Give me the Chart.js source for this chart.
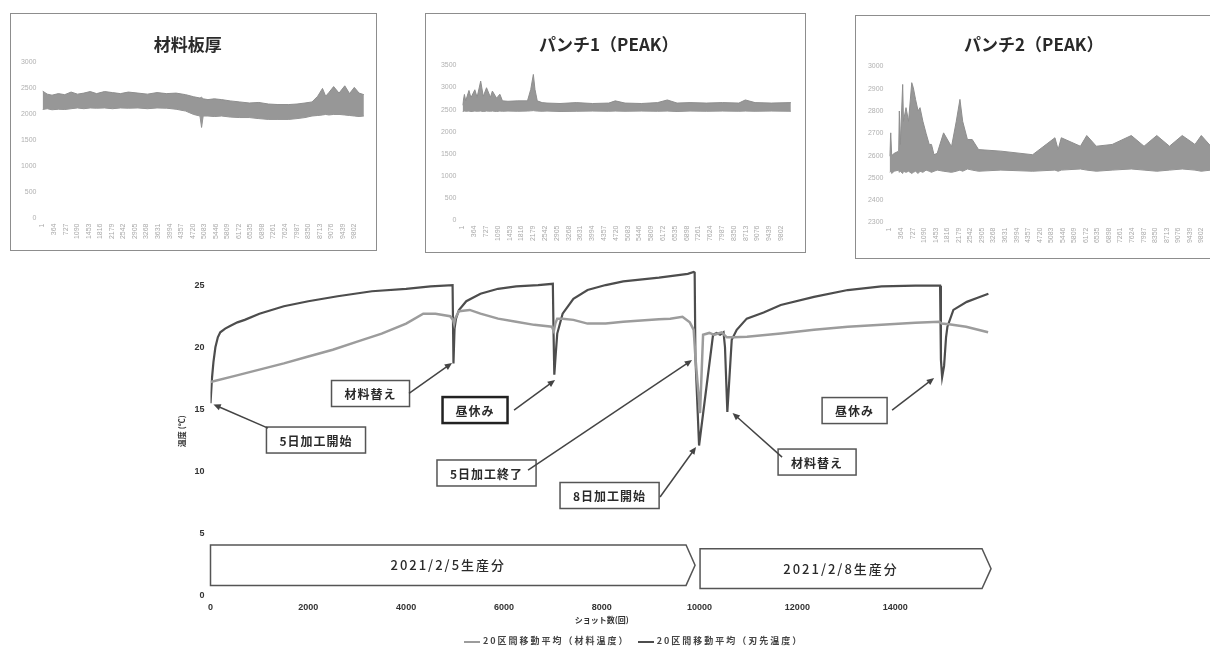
<!DOCTYPE html>
<html lang="ja">
<head>
<meta charset="UTF-8">
<title>温度推移</title>
<script src="https://cdn.jsdelivr.net/npm/chart.js@4/dist/chart.umd.min.js"></script>
<style>
  * { box-sizing: border-box; margin: 0; padding: 0; }
  body { width: 1210px; height: 648px; overflow: hidden; background: #fff; position: relative; font-family: "Noto Sans CJK JP", sans-serif; }
  .panel { position: absolute; border: 1.5px solid #8d8d8d; background: #fff; overflow: hidden; }
  .panel canvas { position: absolute; left: 0; top: 0; }
  #main { position: absolute; left: 150px; top: 255px; }
  #legend { position: absolute; left: 464px; top: 634px; font-size: 9px; letter-spacing: 2px; color: #444; white-space: nowrap; font-weight: bold; }
  #legend .item { margin-right: 8px; }
  #legend i { display: inline-block; width: 16px; height: 2px; vertical-align: middle; margin-right: 3px; }
</style>
</head>
<body>
  <div class="panel" style="left:10px; top:13px; width:367px; height:238px;"><canvas id="p1" width="364" height="235"></canvas></div>
  <div class="panel" style="left:425px; top:13px; width:381px; height:240px;"><canvas id="p2" width="378" height="237"></canvas></div>
  <div class="panel" style="left:855px; top:15px; width:380px; height:244px;"><canvas id="p3" width="377" height="241"></canvas></div>
  <canvas id="main" width="870" height="393"></canvas>
  <div id="legend"></div>

<script>
// --- small panels: shot labels shared by all three ---
const shotTicks = [1, 364, 727, 1090, 1453, 1816, 2179, 2542, 2905, 3268, 3631, 3994, 4357, 4720,
  5083, 5446, 5809, 6172, 6535, 6898, 7261, 7624, 7987, 8350, 8713, 9076, 9439, 9802];

// 材料板厚 (upper / lower envelope of the band)
const thickShots = [1, 150, 300, 500, 700, 900, 1100, 1300, 1500, 1700, 1950, 2200, 2450, 2700, 3000, 3300,
  3600, 3900, 4200, 4500, 4750, 4950, 5000, 5050, 5200, 5400, 5630, 5900, 6200, 6500, 6800, 7100, 7400,
  7740, 8000, 8250, 8470, 8650, 8800, 8900, 9000, 9150, 9320, 9500, 9650, 9800, 9950, 10100];
const thickHigh = [2450, 2390, 2370, 2400, 2380, 2430, 2390, 2410, 2440, 2400, 2440, 2420, 2400, 2430, 2410, 2390,
  2420, 2400, 2410, 2380, 2340, 2315, 2330, 2300, 2285, 2300, 2285, 2260, 2240, 2220, 2230, 2200, 2190,
  2190, 2200, 2220, 2240, 2350, 2500, 2350, 2420, 2535, 2410, 2550, 2400, 2520, 2410, 2380];
const thickLow = [2095, 2110, 2090, 2100, 2095, 2110, 2125, 2110, 2125, 2120, 2125, 2110, 2125, 2120, 2125, 2110,
  2125, 2120, 2100, 2065, 2000, 1970, 1750, 1970, 1970, 1960, 1970, 1950, 1940, 1940, 1920, 1905, 1905,
  1905, 1920, 1940, 1970, 1980, 1990, 2000, 1990, 2000, 2000, 1990, 1980, 1970, 1960, 1970];

// パンチ1 (PEAK)
const punch1Shots = [1, 60, 100, 200, 260, 380, 450, 560, 640, 740, 860, 920, 1050, 1150, 1230, 1400, 1700, 2000,
  2100, 2180, 2230, 2300, 2450, 2600, 3000, 3500, 4000, 4500, 4700, 5000, 5500, 6000, 6300, 6600, 7000,
  7500, 8000, 8500, 8700, 9000, 9500, 10100];
const punch1High = [2600, 2845, 2700, 2935, 2770, 2950, 2780, 3146, 2800, 2996, 2780, 2920, 2760, 2850, 2700, 2690, 2700, 2700,
  2958, 3296, 2958, 2700, 2660, 2650, 2640, 2660, 2640, 2650, 2700, 2650, 2640, 2660, 2720, 2650, 2660,
  2650, 2660, 2650, 2720, 2660, 2650, 2660];
const punch1Low = [2460, 2470, 2465, 2470, 2460, 2470, 2465, 2470, 2460, 2470, 2465, 2470, 2460, 2470, 2465, 2470, 2465, 2470,
  2475, 2480, 2475, 2470, 2465, 2470, 2460, 2465, 2470, 2465, 2470, 2465, 2470, 2465, 2470, 2460, 2470,
  2465, 2470, 2465, 2470, 2465, 2470, 2465];

// パンチ2 (PEAK)
const punch2Shots = [1, 40, 70, 150, 290, 310, 340, 415, 440, 520, 600, 700, 750, 820, 900, 960, 1050, 1150, 1250, 1320,
  1400, 1500, 1700, 1950, 2100, 2215, 2300, 2450, 2600, 2800, 3500, 4500, 5200, 5300, 5400, 6000, 6200,
  6500, 7000, 7600, 8000, 8400, 8800, 9200, 9600, 9800, 10100];
const punch2High = [2597, 2702, 2600, 2610, 2620, 2800, 2650, 2919, 2754, 2815, 2754, 2927, 2904, 2852, 2800, 2815, 2754, 2700, 2650, 2650,
  2604, 2610, 2702, 2640, 2754, 2852, 2754, 2672, 2672, 2627, 2620, 2604, 2680, 2627, 2680, 2642, 2690,
  2642, 2650, 2690, 2642, 2690, 2642, 2690, 2650, 2690, 2642];
const punch2Low = [2525, 2530, 2520, 2530, 2535, 2525, 2530, 2520, 2530, 2525, 2530, 2520, 2525, 2530, 2520, 2530, 2525, 2535, 2530, 2525,
  2530, 2535, 2530, 2525, 2530, 2535, 2530, 2540, 2535, 2530, 2535, 2530, 2535, 2530, 2535, 2540, 2535,
  2530, 2535, 2540, 2535, 2530, 2535, 2540, 2535, 2530, 2535];

// --- main chart: 20-shot moving averages ---
const matShots = [0, 500, 1000, 1500, 2000, 2500, 3000, 3500, 4000, 4350, 4600, 4900, 4960, 4980, 5000, 5080, 5300,
  5520, 5880, 6250, 6620, 6980, 7020, 7050, 7090, 7200, 7420, 7710, 8080, 8440, 9170, 9400, 9650, 9800,
  9880, 9915, 10010, 10072, 10200, 10300, 10450, 10560, 10700, 10970, 11660, 12340, 13030, 13720, 14410,
  14900, 14950, 15100, 15450, 15900];
const matTemp = [17.2, 17.7, 18.2, 18.7, 19.25, 19.8, 20.45, 21.1, 21.9, 22.7, 22.7, 22.5, 22.2, 21.9, 22.3, 22.9, 23.0,
  22.7, 22.3, 22.05, 21.8, 21.65, 21.3, 21.9, 22.3, 22.3, 22.2, 21.9, 21.9, 22.05, 22.25, 22.3, 22.45, 22.0,
  21.4, 19.2, 14.7, 21.0, 21.15, 21.0, 21.2, 20.8, 20.8, 20.85, 21.1, 21.4, 21.65, 21.8, 21.97,
  22.05, 21.9, 21.85, 21.65, 21.2];

const bladeShots = [0, 30, 60, 100, 150, 200, 300, 400, 550, 700, 1000, 1500, 2000, 2600, 3300, 4000, 4500, 4950,
  4968, 4990, 5020, 5080, 5230, 5520, 5880, 6250, 6700, 7000, 7015, 7030, 7060, 7090, 7200, 7420, 7710,
  8080, 8440, 9170, 9760, 9880, 9900, 9915, 9990, 10276, 10350, 10420, 10490, 10520, 10568, 10658, 10760,
  10965, 11310, 11660, 12340, 13030, 13720, 14410, 14918, 14935, 14960, 15000, 15040, 15068, 15190, 15464,
  15700, 15906];
const bladeTemp = [15.5, 17.5, 18.8, 20.0, 20.8, 21.2, 21.5, 21.7, 22.0, 22.2, 22.7, 23.3, 23.7, 24.1, 24.5, 24.7, 24.9, 25.0,
  18.7, 21.5, 22.3, 23.0, 23.7, 24.3, 24.7, 24.9, 25.0, 25.1, 21.0, 17.8, 19.5, 21.1, 22.7, 23.9, 24.6,
  25.0, 25.3, 25.6, 25.9, 26.05, 26.0, 19.2, 12.1, 21.0, 21.15, 21.0, 21.2, 20.0, 14.8, 20.6, 21.4,
  22.3, 22.8, 23.4, 24.05, 24.6, 24.9, 24.95, 24.95, 19.0, 17.6, 18.5, 20.8, 21.65, 23.0, 23.65,
  24.0, 24.3];

const xTicks = [0, 2000, 4000, 6000, 8000, 10000, 12000, 14000];
const yTicks = [0, 5, 10, 15, 20, 25];

// production day spans (shots) shown as arrow banners
const spanLabels = ['2021/2/5生産分', '2021/2/8生産分'];
const spanFrom = [0, 10010];
const spanTo = [9908, 15960];
const spanLow = [0.85, 0.6];
const spanHigh = [4.1, 3.8];

// callouts: box centre, arrow start and arrow tip, all in (shots, ℃)
const notes = [
  { text: '5日加工開始', bx: 2157, by: 12.54, fx: 1176, fy: 13.5, tx: 60, ty: 15.4 },
  { text: '材料替え', bx: 3272, by: 16.28, fx: 4059, fy: 16.3, tx: 4939, ty: 18.73 },
  { text: '昼休み', bx: 5409, by: 14.95, fx: 6207, fy: 14.95, tx: 7045, ty: 17.36, heavy: true },
  { text: '5日加工終了', bx: 5644, by: 9.89, fx: 6493, fy: 10.13, tx: 9847, ty: 18.97 },
  { text: '8日加工開始', bx: 8160, by: 8.08, fx: 9192, fy: 7.96, tx: 9928, ty: 11.98 },
  { text: '材料替え', bx: 12403, by: 10.77, fx: 11687, fy: 11.17, tx: 10675, ty: 14.71 },
  { text: '昼休み', bx: 13170, by: 14.91, fx: 13937, fy: 14.95, tx: 14796, ty: 17.52 }
];

const pts = (xs, ys) => xs.map((x, i) => ({ x, y: ys[i] }));
const CJK = '"Noto Sans CJK JP", sans-serif';

function bandChart(id, o) {
  new Chart(document.getElementById(id), {
    type: 'line',
    data: {
      datasets: [
        { data: pts(o.shots, o.high), borderColor: '#8e8e8e', backgroundColor: '#979797', borderWidth: 1, pointRadius: 0, fill: '+1' },
        { data: pts(o.shots, o.low), borderColor: '#8e8e8e', borderWidth: 1, pointRadius: 0, fill: false }
      ]
    },
    options: {
      responsive: false,
      animation: false,
      devicePixelRatio: 1,
      layout: { padding: { right: o.padR, left: 0, bottom: 0, top: 0 } },
      plugins: {
        legend: { display: false },
        tooltip: { enabled: false },
        title: {
          display: true, text: o.title, color: '#2a2a2a',
          font: { family: CJK, size: 17, weight: 'bold' },
          padding: { top: o.titleTop, bottom: o.titleBottom }
        }
      },
      scales: {
        x: {
          type: 'linear', min: 1, max: 10120,
          afterBuildTicks: s => { s.ticks = shotTicks.map(v => ({ value: v })); },
          afterFit: s => { s.height = o.axisH; },
          ticks: { autoSkip: false, minRotation: 90, maxRotation: 90, padding: 5, color: '#aaaaaa', font: { size: 7 }, callback: v => String(v) },
          grid: { display: false, drawTicks: false }, border: { display: false }
        },
        y: {
          min: o.yMin, max: o.yMax,
          afterFit: s => { s.width = o.axisW; },
          ticks: { stepSize: o.yStep, padding: 6, color: '#b0b0b0', font: { size: 7 }, callback: v => String(v) },
          grid: { display: false, drawTicks: false }, border: { display: false }
        }
      }
    }
  });
}

bandChart('p1', { title: '材料板厚', shots: thickShots, high: thickHigh, low: thickLow, yMin: 0, yMax: 3000, yStep: 500,
  axisW: 31.5, axisH: 30.5, padR: 10.5, titleTop: 20, titleBottom: 8 });
bandChart('p2', { title: 'パンチ1（PEAK）', shots: punch1Shots, high: punch1High, low: punch1Low, yMin: 0, yMax: 3500, yStep: 500,
  axisW: 36.5, axisH: 30.5, padR: 12.5, titleTop: 20, titleBottom: 11 });
bandChart('p3', { title: 'パンチ2（PEAK）', shots: punch2Shots, high: punch2High, low: punch2Low, yMin: 2300, yMax: 3000, yStep: 100,
  axisW: 33.5, axisH: 34.5, padR: 21.5, titleTop: 18, titleBottom: 12 });

// banners and callouts drawn in data space
const notePlugin = {
  id: 'notes',
  afterDatasetsDraw(chart) {
    const { ctx, scales: { x, y } } = chart;
    ctx.save();

    spanLabels.forEach((label, i) => {
      const x0 = x.getPixelForValue(spanFrom[i]);
      const x2 = x.getPixelForValue(spanTo[i]);
      const x1 = x2 - 9;
      const yt = y.getPixelForValue(spanHigh[i]);
      const yb = y.getPixelForValue(spanLow[i]);
      ctx.beginPath();
      ctx.moveTo(x0, yt);
      ctx.lineTo(x1, yt);
      ctx.lineTo(x2, (yt + yb) / 2);
      ctx.lineTo(x1, yb);
      ctx.lineTo(x0, yb);
      ctx.closePath();
      ctx.fillStyle = '#fff';
      ctx.fill();
      ctx.lineWidth = 1.5;
      ctx.strokeStyle = '#555';
      ctx.stroke();
      ctx.fillStyle = '#2a2a2a';
      ctx.font = '500 13px ' + CJK;
      ctx.letterSpacing = '2px';
      ctx.textAlign = 'center';
      ctx.textBaseline = 'middle';
      ctx.fillText(label, (x0 + x1) / 2, (yt + yb) / 2);
    });

    ctx.font = 'bold 12px ' + CJK;
    ctx.letterSpacing = '1px';
    notes.forEach(n => {
      const cx = x.getPixelForValue(n.bx), cy = y.getPixelForValue(n.by);
      const w = ctx.measureText(n.text).width + 26, h = 26;
      ctx.fillStyle = '#fff';
      ctx.fillRect(cx - w / 2, cy - h / 2, w, h);
      ctx.lineWidth = n.heavy ? 2.5 : 1.5;
      ctx.strokeStyle = n.heavy ? '#222' : '#555';
      ctx.strokeRect(cx - w / 2, cy - h / 2, w, h);
      ctx.fillStyle = '#2a2a2a';
      ctx.fillText(n.text, cx, cy + 1);

      // arrow
      const fx = x.getPixelForValue(n.fx), fy = y.getPixelForValue(n.fy);
      const tx = x.getPixelForValue(n.tx), ty = y.getPixelForValue(n.ty);
      const a = Math.atan2(ty - fy, tx - fx);
      const hl = 8;
      ctx.strokeStyle = '#444';
      ctx.lineWidth = 1.5;
      ctx.beginPath();
      ctx.moveTo(fx, fy);
      ctx.lineTo(tx - Math.cos(a) * hl * 0.8, ty - Math.sin(a) * hl * 0.8);
      ctx.stroke();
      ctx.fillStyle = '#444';
      ctx.beginPath();
      ctx.moveTo(tx, ty);
      ctx.lineTo(tx - hl * Math.cos(a - 0.42), ty - hl * Math.sin(a - 0.42));
      ctx.lineTo(tx - hl * Math.cos(a + 0.42), ty - hl * Math.sin(a + 0.42));
      ctx.closePath();
      ctx.fill();
    });
    ctx.restore();
  }
};

const numFont = { family: '"Liberation Sans", Arial, sans-serif', size: 9, weight: 'bold' };

const main = new Chart(document.getElementById('main'), {
  type: 'line',
  data: {
    datasets: [
      { label: '20区間移動平均（材料温度）', data: pts(matShots, matTemp), borderColor: '#9c9c9c', borderWidth: 2.5, pointRadius: 0, tension: 0 },
      { label: '20区間移動平均（刃先温度）', data: pts(bladeShots, bladeTemp), borderColor: '#4d4d4d', borderWidth: 2.2, pointRadius: 0, tension: 0 }
    ]
  },
  options: {
    responsive: false,
    animation: false,
    devicePixelRatio: 1,
    layout: { padding: { left: 23, right: 27, top: 11, bottom: 18 } },
    plugins: { legend: { display: false }, tooltip: { enabled: false } },
    scales: {
      x: {
        type: 'linear', min: 0, max: 16000,
        afterBuildTicks: s => { s.ticks = xTicks.map(v => ({ value: v })); },
        afterFit: s => { s.height = 34; },
        ticks: { color: '#333', font: numFont, padding: 6, maxRotation: 0, callback: v => String(v) },
        grid: { display: false, drawTicks: false }, border: { display: false },
        title: { display: true, text: 'ショット数(回)', color: '#333', font: { family: CJK, size: 8, weight: 'bold' }, padding: { top: 0, bottom: 5 } }
      },
      y: {
        min: 0, max: 26.5,
        afterBuildTicks: s => { s.ticks = yTicks.map(v => ({ value: v })); },
        afterFit: s => { s.width = 37.5; },
        ticks: { color: '#333', font: numFont, padding: 6 },
        grid: { display: false, drawTicks: false }, border: { display: false },
        title: { display: true, text: '温度 (℃)', color: '#333', font: { family: CJK, size: 8, weight: 'bold' }, padding: { top: 4, bottom: 0 } }
      }
    }
  },
  plugins: [notePlugin]
});

// html legend built from the datasets
document.getElementById('legend').innerHTML = main.data.datasets.map(d =>
  `<span class="item"><i style="background:${d.borderColor}"></i>${d.label}</span>`).join('');
</script>
</body>
</html>
